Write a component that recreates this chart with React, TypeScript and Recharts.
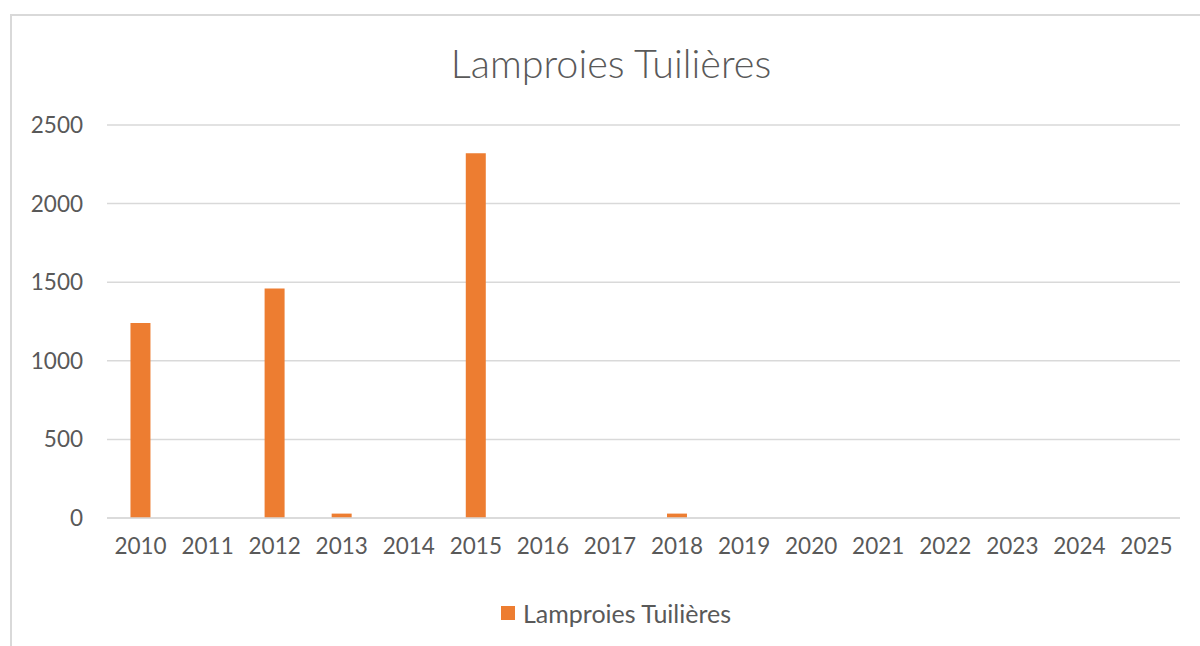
import { BarChart, Bar, XAxis, YAxis, CartesianGrid } from 'recharts'

const years = [
  '2010', '2011', '2012', '2013', '2014', '2015', '2016', '2017',
  '2018', '2019', '2020', '2021', '2022', '2023', '2024', '2025',
]

const lamproies = [1240, 0, 1460, 28, 0, 2320, 0, 0, 28, 0, 0, 0, 0, 0, 0, 0]

const yTicks = [0, 500, 1000, 1500, 2000, 2500]

const seriesName = 'Lamproies Tuilières'
const orange = '#ED7D31'
const textGray = '#595959'
const font = 'Lato, "Open Sans", sans-serif'

export default function App() {
  const chartData = years.map((year, i) => ({
    year,
    value: lamproies[i],
  }))

  return (
    <div
      style={{
        position: 'absolute',
        left: 0,
        top: 0,
        width: 1200,
        height: 646,
        overflow: 'hidden',
        background: '#fff',
        fontFamily: font,
      }}
    >
      {/* chart frame */}
      <div
        style={{
          position: 'absolute',
          left: 10,
          top: 14,
          width: 1250,
          height: 700,
          border: '2px solid #d9d9d9',
          boxSizing: 'border-box',
        }}
      />

      <div
        style={{
          position: 'absolute',
          left: 0,
          top: 39,
          width: 1222,
          textAlign: 'center',
          fontSize: 39.5,
          fontWeight: 300,
          color: textGray,
          lineHeight: '48px',
        }}
      >
        {seriesName}
      </div>

      <div style={{ position: 'absolute', left: 0, top: 0 }}>
        <BarChart
          width={1200}
          height={646}
          data={chartData}
          margin={{ top: 125, right: 20, bottom: 98, left: 47 }}
          barCategoryGap="35%"
        >
          <CartesianGrid vertical={false} stroke="#d9d9d9" strokeWidth={1.5} />
          <XAxis
            dataKey="year"
            height={30}
            tickLine={false}
            axisLine={{ stroke: '#d9d9d9', strokeWidth: 1.5 }}
            tick={{ fill: textGray, fontSize: 22.5, fontFamily: font }}
            tickMargin={14}
            interval={0}
          />
          <YAxis
            width={60}
            domain={[0, 2500]}
            ticks={yTicks}
            tickLine={false}
            axisLine={false}
            tick={{ fill: textGray, fontSize: 22.5, fontFamily: font }}
            tickMargin={18}
          />
          <Bar dataKey="value" name={seriesName} fill={orange} isAnimationActive={false} />
        </BarChart>
      </div>

      {/* legend */}
      <div
        style={{
          position: 'absolute',
          left: 501,
          top: 597,
          display: 'flex',
          alignItems: 'center',
          fontSize: 25,
          color: textGray,
          lineHeight: '32px',
        }}
      >
        <span
          style={{
            display: 'inline-block',
            width: 14,
            height: 14,
            background: orange,
            marginRight: 8,
          }}
        />
        <span>{seriesName}</span>
      </div>
    </div>
  )
}
